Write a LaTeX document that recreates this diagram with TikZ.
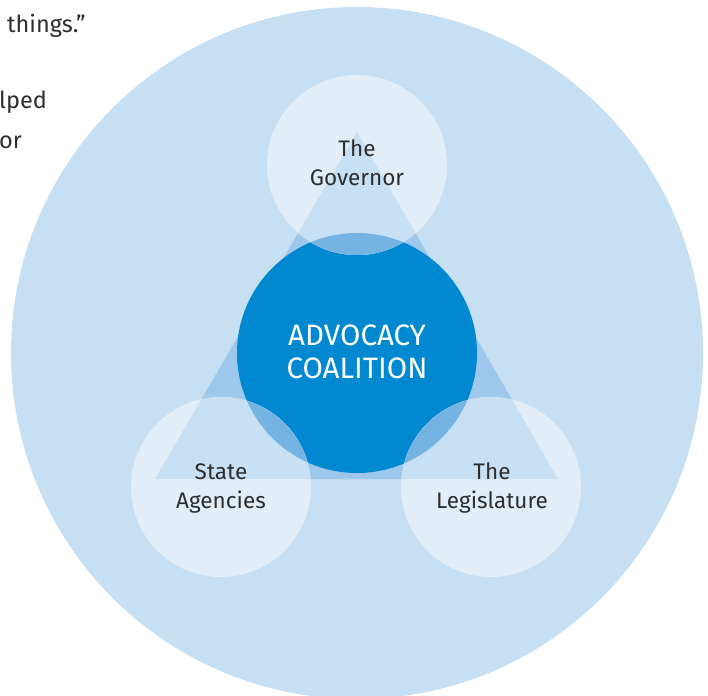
\documentclass[tikz,border=0pt]{standalone}
\usepackage{fontspec}
\setmainfont{Fira Sans}
\definecolor{outerblue}{HTML}{C7DFF2}
\definecolor{triblue}{HTML}{9DC8EC}
\definecolor{actorfill}{HTML}{E1EEF8}
\definecolor{actortri}{HTML}{C8E0F3}
\definecolor{coreblue}{HTML}{0089D0}
\definecolor{coreover}{HTML}{75B4E2}
\definecolor{inkgray}{HTML}{2E2E2E}
\tikzset{
  label/.style={anchor=base, text=inkgray, font=\fontsize{22.5}{26}\selectfont, inner sep=0pt},
  corelabel/.style={anchor=base, text=white, font=\fontsize{29.5}{34}\selectfont, inner sep=0pt},
  pagetext/.style={anchor=base west, text=inkgray, font=\fontsize{23.5}{28}\selectfont, inner sep=0pt},
}
\begin{document}
\begin{tikzpicture}[x=1pt,y=-1pt]
\useasboundingbox (0,0) rectangle (708,695);
% geometry
\coordinate (ctr) at (357,353);
\coordinate (gov) at (357,165);
\coordinate (age) at (221,487);
\coordinate (leg) at (491,487);
\coordinate (apex) at (357,132);
\coordinate (bl) at (155,479);
\coordinate (br) at (558,479);
\def\actorR{90}
\def\coreR{120}
% outer field
\fill[outerblue] (357,353) circle (346);
% triangle linking the three actors
\fill[triblue] (apex) -- (bl) -- (br) -- cycle;
% coalition core
\fill[coreblue] (ctr) circle (\coreR);
% actor circles with their overlaps
\foreach \c in {gov,age,leg}{
  \fill[actorfill] (\c) circle (\actorR);
  \begin{scope}
    \clip (\c) circle (\actorR);
    \fill[actortri] (apex) -- (bl) -- (br) -- cycle;
    \fill[coreover] (ctr) circle (\coreR);
  \end{scope}
}
% labels
\node[label] (govA) at (357,157) {The};
\node[label] (govB) at (357,185) {Governor};
\node[label] (ageA) at (221,479) {State};
\node[label] (ageB) at (221,508) {Agencies};
\node[label] (legA) at (492,479) {The};
\node[label] (legB) at (492,508) {Legislature};
\node[corelabel] (coreA) at (357,345) {ADVOCACY};
\node[corelabel] (coreB) at (357,378) {COALITION};
% running text of the page
\node[pagetext] (txtA) at (7,33) {things.”};
\node[pagetext] (txtB) at (-1,109) {lped};
\node[pagetext] (txtC) at (-1,149) {or};
\end{tikzpicture}
\end{document}
